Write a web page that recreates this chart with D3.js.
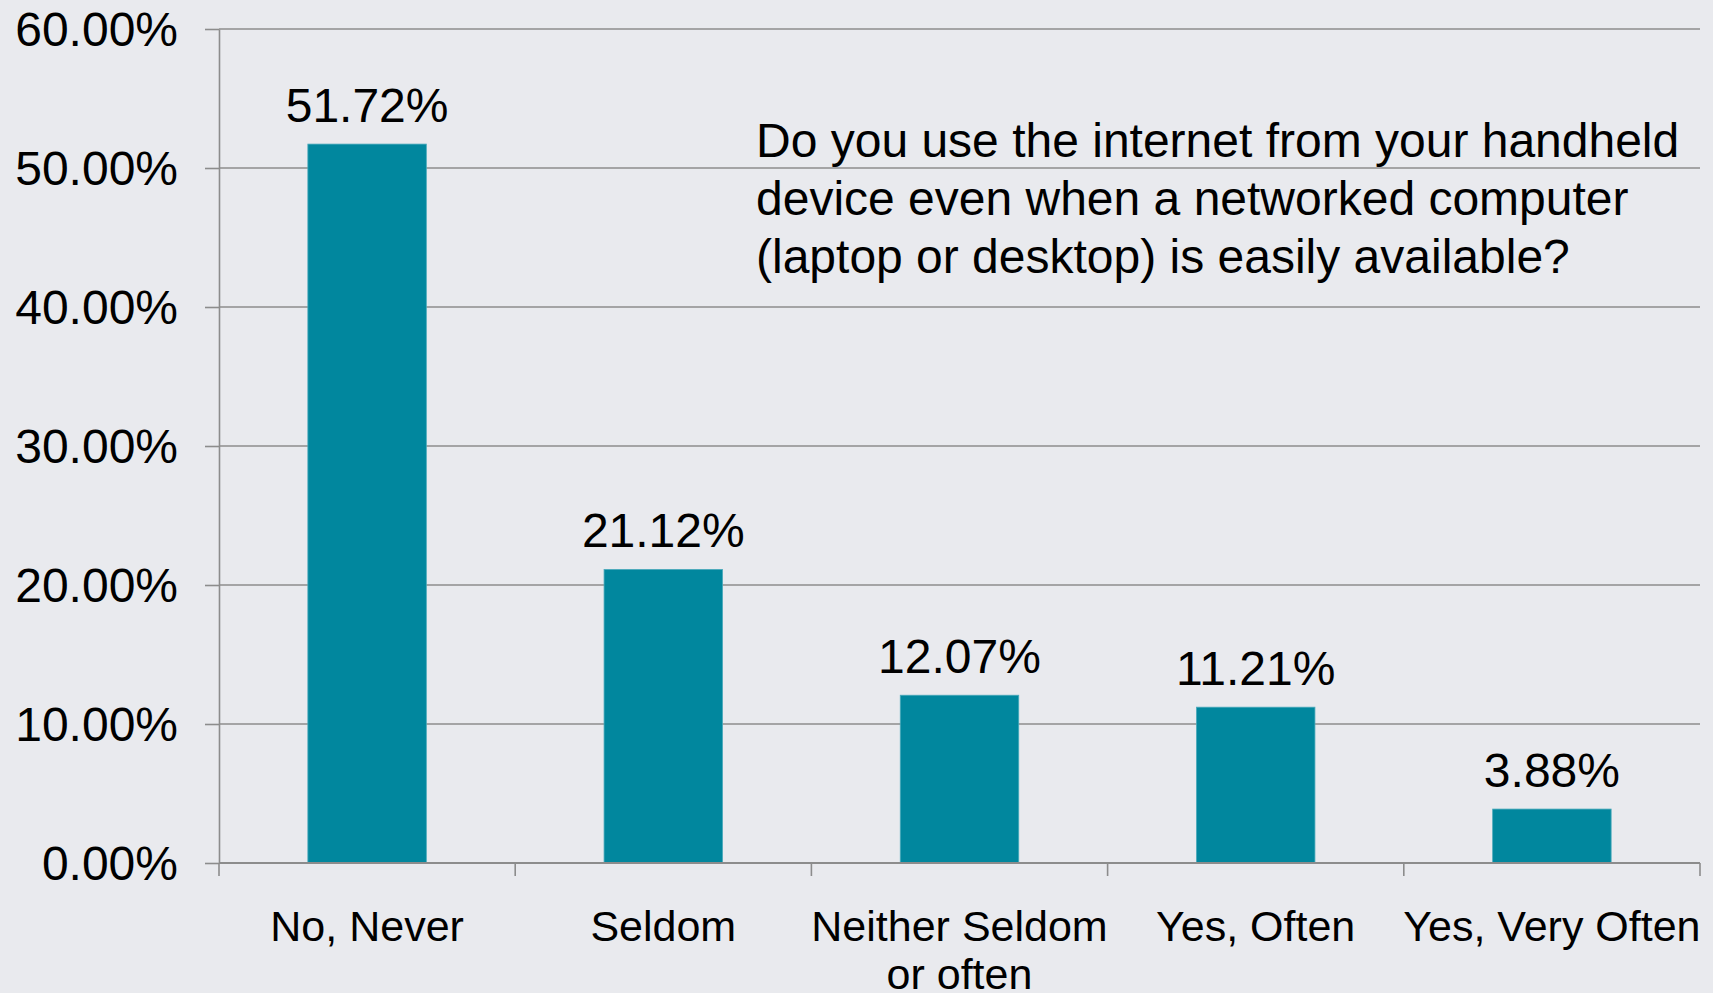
<!DOCTYPE html>
<html>
<head>
<meta charset="utf-8">
<script src="https://cdn.jsdelivr.net/npm/d3@7"></script>
<style>
  html, body { margin: 0; padding: 0; background: #E9EAEE; }
  svg { display: block; }
  text { font-family: "Liberation Sans", Arial, sans-serif; fill: #000; }
</style>
</head>
<body>
<svg id="chart" width="1713" height="993"></svg>
<script>
// ---- data ----
const categories = ["No, Never", "Seldom", "Neither Seldom or often", "Yes, Often", "Yes, Very Often"];
const categoryLines = [["No, Never"], ["Seldom"], ["Neither Seldom", "or often"], ["Yes, Often"], ["Yes, Very Often"]];
const values = [51.72, 21.12, 12.07, 11.21, 3.88];
const valueLabels = ["51.72%", "21.12%", "12.07%", "11.21%", "3.88%"];
const yTicks = [0, 10, 20, 30, 40, 50, 60];
const yTickLabels = ["0.00%", "10.00%", "20.00%", "30.00%", "40.00%", "50.00%", "60.00%"];
const questionLines = [
  "Do you use the internet from your handheld",
  "device even when a networked computer",
  "(laptop or desktop) is easily available?"
];

// ---- layout ----
const W = 1713, H = 993;
const plotLeft = 219, plotRight = 1700, plotTop = 29, plotBottom = 863;
const barColor = "#01879E";
const lineColor = "#8C8C8C";

const svg = d3.select("#chart");
svg.append("rect").attr("width", W).attr("height", H).attr("fill", "#E9EAEE");

const x = d3.scaleBand().domain(categories).range([plotLeft, plotRight])
  .paddingInner(0.6).paddingOuter(0.3);
const y = d3.scaleLinear().domain([0, 60]).range([plotBottom, plotTop]);

// gridlines
svg.append("g").selectAll("line").data(yTicks.filter(d => d > 0)).join("line")
  .attr("x1", plotLeft).attr("x2", plotRight)
  .attr("y1", d => y(d)).attr("y2", d => y(d))
  .attr("stroke", lineColor).attr("stroke-width", 1.6);

// y axis
const yAxis = d3.axisLeft(y).tickValues(yTicks)
  .tickFormat((d, i) => yTickLabels[i]).tickSizeInner(14).tickSizeOuter(0).tickPadding(27);
const gy = svg.append("g").attr("transform", `translate(${plotLeft},0)`).call(yAxis);
gy.select(".domain").attr("stroke", lineColor).attr("stroke-width", 1.6);
gy.selectAll(".tick line").attr("stroke", lineColor).attr("stroke-width", 1.6);
gy.selectAll(".tick text").attr("font-size", 48).attr("font-family", "Liberation Sans, Arial, sans-serif")
  .attr("fill", "#000").attr("dy", null).attr("dominant-baseline", "central");

// bars
svg.append("g").selectAll("rect").data(values).join("rect")
  .attr("x", (d, i) => x(categories[i]))
  .attr("width", x.bandwidth())
  .attr("y", d => y(d))
  .attr("height", d => y(0) - y(d))
  .attr("fill", barColor)
  .attr("stroke", "#4AAABB").attr("stroke-width", 0.8);

// x axis baseline and boundary ticks
const step = x.step();
svg.append("line").attr("x1", plotLeft).attr("x2", plotRight)
  .attr("y1", y(0)).attr("y2", y(0)).attr("stroke", lineColor).attr("stroke-width", 1.8);
svg.append("g").selectAll("line").data(d3.range(categories.length + 1)).join("line")
  .attr("x1", i => plotLeft + i * step).attr("x2", i => plotLeft + i * step)
  .attr("y1", y(0)).attr("y2", y(0) + 13)
  .attr("stroke", lineColor).attr("stroke-width", 1.6);

// value labels
svg.append("g").selectAll("text").data(values).join("text")
  .attr("x", (d, i) => x(categories[i]) + x.bandwidth() / 2)
  .attr("y", d => y(d) - 22)
  .attr("text-anchor", "middle")
  .attr("font-size", 48)
  .text((d, i) => valueLabels[i]);

// category labels
const cat = svg.append("g").selectAll("text").data(categories).join("text")
  .attr("x", d => x(d) + x.bandwidth() / 2)
  .attr("y", 941)
  .attr("text-anchor", "middle")
  .attr("font-size", 43);
cat.each(function(d, i) {
  const t = d3.select(this);
  categoryLines[i].forEach((ln, j) => {
    t.append("tspan").attr("x", x(d) + x.bandwidth() / 2).attr("dy", j === 0 ? 0 : 48).text(ln);
  });
});

// question annotation
const q = svg.append("text").attr("x", 756).attr("y", 157).attr("font-size", 48);
questionLines.forEach((ln, j) => {
  q.append("tspan").attr("x", 756).attr("dy", j === 0 ? 0 : 58).text(ln);
});
</script>
</body>
</html>
